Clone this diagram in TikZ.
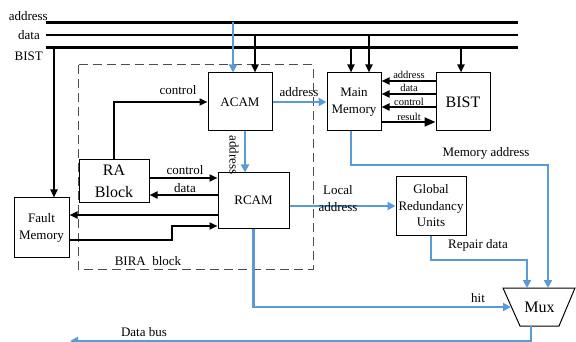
\documentclass[tikz,border=0pt]{standalone}
\usepackage{fontspec}
\setmainfont{Liberation Serif}
\usetikzlibrary{arrows.meta}
\definecolor{linkblue}{RGB}{91,155,213}

\begin{document}
\begin{tikzpicture}[x=1pt,y=-1pt,
    box/.style={draw, line width=1pt, inner sep=0pt, align=center, font=\fontsize{13}{17}\selectfont},
    bus/.style={line width=2.8pt},
    arr/.style={line width=2pt, -{Triangle[length=8pt,width=7pt]}},
    barr/.style={linkblue, line width=2.8pt, -{Triangle[length=8pt,width=8pt]}},
    lbl/.style={font=\fontsize{13}{17}\selectfont, inner sep=0pt, align=center},
    slbl/.style={font=\fontsize{10.5}{12}\selectfont, inner sep=0pt, anchor=south}]
  \useasboundingbox (0,0) rectangle (576,342);

  % BIRA block frame
  \draw[black!70, line width=1pt, dash pattern=on 9pt off 5pt] (78,65) rectangle (313,269);
  \node[lbl] (biralbl) at (148,261) {BIRA\ \ block};

  % blocks
  \node[box, minimum width=64pt, minimum height=58pt] (acam) at (240,102) {ACAM};
  \node[box, minimum width=54pt, minimum height=58pt] (mm) at (354,102) {Main\\Memory};
  \node[box, minimum width=54pt, minimum height=58pt, font=\fontsize{16}{19}\selectfont] (bist) at (463,102) {BIST};
  \node[box, minimum width=70pt, minimum height=43pt, font=\fontsize{16}{22}\selectfont] (ra) at (114,181.5) {RA\\Block};
  \node[box, minimum width=71pt, minimum height=55pt] (rcam) at (253.5,200.5) {RCAM};
  \node[box, minimum width=55pt, minimum height=59pt] (fault) at (41.5,227.5) {Fault\\Memory};
  \node[box, minimum width=70pt, minimum height=58pt, font=\fontsize{13}{16.5}\selectfont] (gru) at (431,206) {Global\\Redundancy\\Units};

  % multiplexer
  \draw[line width=1pt] (503,288) -- (575,288) -- (559,326) -- (520,326) -- cycle;
  \node[lbl, font=\fontsize{16}{19}\selectfont] (mux) at (539.5,307) {Mux};
  \coordinate (muxin1) at (527,288);
  \coordinate (muxin2) at (548,288);
  \coordinate (muxin3) at (511,307);
  \coordinate (muxout) at (531,326);

  % address, data and BIST buses
  \coordinate (adrL) at (46,22.5); \coordinate (adrR) at (518,22.5);
  \coordinate (datL) at (46,35);   \coordinate (datR) at (518,35);
  \coordinate (bstL) at (46,47.5); \coordinate (bstR) at (518,47.5);
  \draw[bus] (adrL) -- (adrR);
  \draw[bus] (datL) -- (datR);
  \draw[bus] (bstL) -- (bstR);
  \node[lbl, anchor=base east] (adrlbl) at (48,21) {address};
  \node[lbl, anchor=base east] (datlbl) at (40,40) {data};
  \node[lbl, anchor=base east] (bstlbl) at (43,61) {BIST};

  \draw[barr] ([xshift=-7pt]acam.north |- adrL) -- ([xshift=-7pt]acam.north);
  \draw[arr] ([xshift=15pt]acam.north |- datL) -- ([xshift=15pt]acam.north);
  \draw[arr] ([xshift=-3pt]mm.north |- bstL) -- ([xshift=-3pt]mm.north);
  \draw[arr] ([xshift=15pt]mm.north |- datL) -- ([xshift=15pt]mm.north);
  \draw[arr] ([xshift=-2pt]bist.north |- bstL) -- ([xshift=-2pt]bist.north);
  \draw[arr] ([xshift=12.5pt]fault.north |- bstL) -- ([xshift=12.5pt]fault.north);

  % inside the BIRA block
  \draw[arr] (ra.north) |- (acam.west);
  \node[lbl] (ctl1) at (178,90) {control};
  \draw[barr] ([xshift=5pt]acam.south) -- ([xshift=5pt]acam.south |- rcam.north);
  \node[lbl, rotate=-90] (adr2) at (234,155) {address};
  \draw[arr] (ra.east |- 0,178) -- (rcam.west |- 0,178);
  \node[lbl] (ctl2) at (185,170) {control};
  \draw[arr] (rcam.west |- 0,195) -- (ra.east |- 0,195);
  \node[lbl] (dat2) at (185,188) {data};
  \draw[arr] (rcam.west |- 0,215) -- (fault.east |- 0,215);
  \draw[arr] (fault.east |- 0,240) -| (172,226) -- (rcam.west |- 0,226);

  % main memory and BIST
  \draw[barr] (acam.east) -- (mm.west);
  \node[lbl] (adr3) at (299,92) {address};
  \draw[arr] (bist.west |- 0,81) -- (mm.east |- 0,81);
  \draw[arr] (bist.west |- 0,94) -- (mm.east |- 0,94);
  \draw[arr] (bist.west |- 0,107) -- (mm.east |- 0,107);
  \draw[line width=2pt, -{Triangle[length=11pt,width=9pt]}] (mm.east |- 0,122) -- (bist.west |- 0,122);
  \node[slbl] (sadr) at (409,79) {address};
  \node[slbl] (sdat) at (409,92) {data};
  \node[slbl] (sctl) at (409,106) {control};
  \node[slbl] (sres) at (409,121) {result};

  % paths to the multiplexer
  \draw[barr] ([xshift=-3pt]mm.south) |- (muxin2 |- 0,165) -- (muxin2);
  \node[lbl] (memadr) at (486,153) {Memory address};
  \draw[barr] (rcam.east |- gru.west) -- (gru.west);
  \node[lbl] (locadr) at (338,198.5) {Local\\address};
  \draw[barr] (gru.south) |- (muxin1 |- 0,260) -- (muxin1);
  \node[lbl] (repdat) at (478,245) {Repair data};
  \draw[barr] (rcam.south) |- (muxin3);
  \node[lbl] (hitlbl) at (478,298) {hit};
  \coordinate (dbus) at (70,341);
  \draw[barr] (muxout) |- (dbus);
  \node[lbl] (dbuslbl) at (144,332) {Data bus};
\end{tikzpicture}
\end{document}
